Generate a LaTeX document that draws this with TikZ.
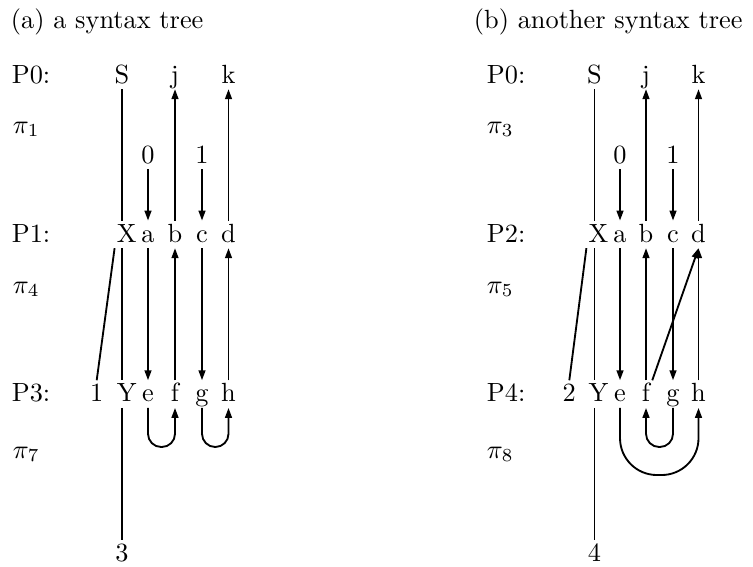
\documentclass[tikz,border=0pt]{standalone}
\usetikzlibrary{arrows.meta}
\begin{document}
\begin{tikzpicture}[x=0.38pt,y=-0.38pt,
  lt/.style={anchor=base,inner xsep=0.5pt,inner ysep=0.6pt,text height=7.2pt,text depth=1.4pt},
  lab/.style={anchor=base west,inner sep=0pt},
  arr/.style={-{Triangle[length=3.8pt,width=2.6pt]}},
  every path/.style={line width=0.7pt}]
\useasboundingbox (0,0) rectangle (753,566);
% ---------------- left panel ----------------
\node[lab] (ta) at (10,28) {(a) a syntax tree};
\node[lab] (pa0) at (11,83) {P0:};
\node[lab] (pia1) at (12,133) {$\pi_1$};
\node[lab] (pa1) at (11,242) {P1:};
\node[lab] (pia4) at (12,293) {$\pi_4$};
\node[lab] (pa3) at (11,401.7) {P3:};
\node[lab] (pia7) at (12,458) {$\pi_7$};

\node[lt] (S1) at (122,83) {S};
\node[lt] (j1) at (175,83) {j};
\node[lt] (k1) at (228.5,83) {k};
\node[lt] (z1) at (148,163) {0};
\node[lt] (o1) at (202,163) {1};
\node[lt] (X1) at (126.7,242) {X};
\node[lt] (a1) at (148,242) {a};
\node[lt] (b1) at (175,242) {b};
\node[lt] (c1) at (202,242) {c};
\node[lt] (d1) at (228.5,242) {d};
\node[lt] (l1) at (96.7,401.7) {1};
\node[lt] (Y1) at (126.7,401.7) {Y};
\node[lt] (e1) at (148,401.7) {e};
\node[lt] (f1) at (175,401.7) {f};
\node[lt] (g1) at (202,401.7) {g};
\node[lt] (h1) at (228.5,401.7) {h};
\node[lt] (t1) at (122,561.7) {3};
\coordinate (lb) at (0,447);

\draw (S1.south) -- (S1.south |- X1.north);
\draw (S1.south |- X1.south) -- (S1.south |- Y1.north);
\draw (S1.south |- Y1.south) -- (t1.north);
\draw (X1.south west) -- (l1.north);
\draw[arr] (b1) -- (j1);
\draw[arr] (d1) -- (k1);
\draw[arr] (z1) -- (a1);
\draw[arr] (o1) -- (c1);
\draw[arr] (a1) -- (e1);
\draw[arr] (f1) -- (b1);
\draw[arr] (c1) -- (g1);
\draw[arr] (h1) -- (d1);
\draw[arr,rounded corners=5pt] (e1.south) -- (e1.south |- lb) -- (f1.south |- lb) -- (f1.south);
\draw[arr,rounded corners=5pt] (g1.south) -- (g1.south |- lb) -- (h1.south |- lb) -- (h1.south);

% ---------------- right panel ----------------
\node[lab] (tb) at (473,28) {(b) another syntax tree};
\node[lab] (pb0) at (486,83) {P0:};
\node[lab] (pib3) at (486,133) {$\pi_3$};
\node[lab] (pb2) at (486,242) {P2:};
\node[lab] (pib5) at (486,293) {$\pi_5$};
\node[lab] (pb4) at (486,401.7) {P4:};
\node[lab] (pib8) at (486,458) {$\pi_8$};

\node[lt] (S2) at (594.5,83) {S};
\node[lt] (j2) at (646,83) {j};
\node[lt] (k2) at (698.5,83) {k};
\node[lt] (z2) at (620,163) {0};
\node[lt] (o2) at (673,163) {1};
\node[lt] (X2) at (598.5,242) {X};
\node[lt] (a2) at (620,242) {a};
\node[lt] (b2) at (646,242) {b};
\node[lt] (c2) at (673,242) {c};
\node[lt] (d2) at (698.5,242) {d};
\node[lt] (l2) at (569.3,401.7) {2};
\node[lt] (Y2) at (598.5,401.7) {Y};
\node[lt] (e2) at (620,401.7) {e};
\node[lt] (f2) at (646,401.7) {f};
\node[lt] (g2) at (673,401.7) {g};
\node[lt] (h2) at (698.5,401.7) {h};
\node[lt] (t2) at (594.5,561.7) {4};
\coordinate (rb1) at (0,447);
\coordinate (rb2) at (0,475);

\draw (S2.south) -- (S2.south |- X2.north);
\draw (S2.south |- X2.south) -- (S2.south |- Y2.north);
\draw (S2.south |- Y2.south) -- (t2.north);
\draw (X2.south west) -- (l2.north);
\draw[arr] (b2) -- (j2);
\draw[arr] (d2) -- (k2);
\draw[arr] (z2) -- (a2);
\draw[arr] (o2) -- (c2);
\draw[arr] (a2) -- (e2);
\draw[arr] (f2) -- (b2);
\draw[arr] (c2) -- (g2);
\draw[arr] (h2) -- (d2);
\draw[arr] (f2.north east) -- (d2.south);
\draw[arr,rounded corners=5pt] (g2.south) -- (g2.south |- rb1) -- (f2.south |- rb1) -- (f2.south);
\draw[arr,rounded corners=14pt] (e2.south) -- (e2.south |- rb2) -- (h2.south |- rb2) -- (h2.south);
\end{tikzpicture}
\end{document}
